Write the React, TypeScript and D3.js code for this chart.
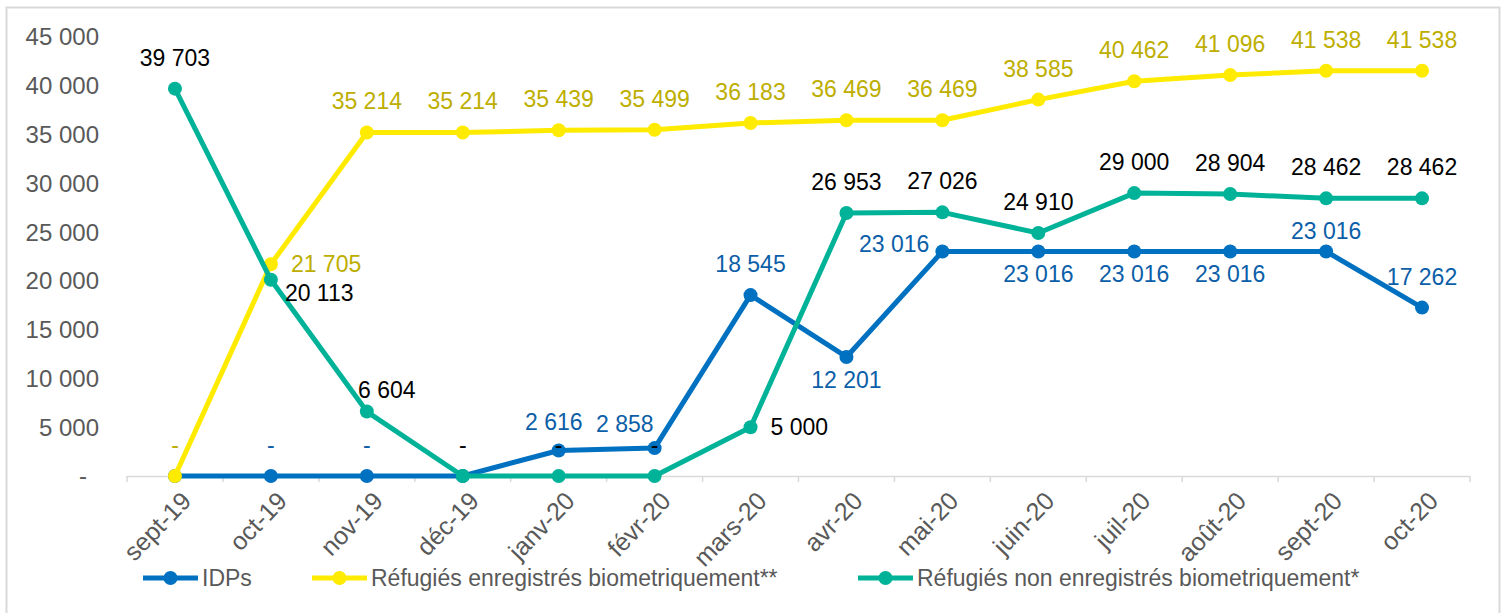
import React from "react";
import * as d3 from "d3";

const months = ["sept-19","oct-19","nov-19","déc-19","janv-20","févr-20","mars-20","avr-20","mai-20","juin-20","juil-20","août-20","sept-20","oct-20"];
const idps = [0,0,0,0,2616,2858,18545,12201,23016,23016,23016,23016,23016,17262];
const refBio = [0,21705,35214,35214,35439,35499,36183,36469,36469,38585,40462,41096,41538,41538];
const refNonBio = [39703,20113,6604,0,0,0,5000,26953,27026,24910,29000,28904,28462,28462];
const yTicks = [0,5000,10000,15000,20000,25000,30000,35000,40000,45000];

// label placement codes
const idpsPos = ["hide","above","above","hide","aboveLeftS","aboveLeft","above","below","left","below","below","below","aboveClose","above"];
const refBioPos = ["above","right","above","above","above","above","above","above","above","above","above","above","above","above"];
const refNonBioPos = ["above","rightBelow","rightAbove","above","above","above","right","above","above","above","above","above","above","above"];

const series = [
  { name: "IDPs", values: idps, color: "#0070C0", labelColor: "#0B5EA8", pos: idpsPos },
  { name: "Réfugiés enregistrés biometriquement**", values: refBio, color: "#FFEB00", labelColor: "#BDAE00", pos: refBioPos },
  { name: "Réfugiés non enregistrés biometriquement*", values: refNonBio, color: "#00B398", labelColor: "#000000", pos: refNonBioPos },
];

const fmt = (v: number) => (v === 0 ? "-" : d3.format(",")(v).replace(/,/g, " "));

export default function App() {
  const W = 1504, H = 613;
  const x = d3.scaleBand<string>().domain(months).range([127, 1470]).padding(0);
  const cx = (m: string) => (x(m) as number) + x.bandwidth() / 2;
  const y = d3.scaleLinear().domain([0, 45000]).range([476, 37]);
  const line = d3.line<number>().x((_, i) => cx(months[i])).y((d) => y(d));
  const font = "'Liberation Sans', Arial, sans-serif";

  const labelXY = (pos: string, px: number, py: number) => {
    switch (pos) {
      case "above": return [px, py - 23, "middle"];
      case "aboveClose": return [px, py - 12, "middle"];
      case "below": return [px, py + 31, "middle"];
      case "right": return [px + 20, py + 8, "start"];
      case "rightBelow": return [px + 14, py + 21, "start"];
      case "rightAbove": return [px + 20, py - 14, "middle"];
      case "aboveLeft": return [px - 1, py - 16, "end"];
      case "aboveLeftS": return [px + 24, py - 20, "end"];
      case "left": return [px - 13, py + 1, "end"];
      default: return [px, py, "middle"];
    }
  };

  const legendItems = [
    { x: 143, s: series[0] },
    { x: 312, s: series[1] },
    { x: 858, s: series[2] },
  ];

  return (
    <svg width={W} height={H} style={{ position: "absolute", left: 0, top: 0, background: "#fff" }} fontFamily={font}>
      <path d={`M6.5,${H} V7.5 H1499.5 V${H}`} fill="none" stroke="#D9D9D9" strokeWidth={2} />
      {/* y axis labels */}
      {yTicks.map((t) => (
        <text key={t} x={t === 0 ? 87 : 99} y={y(t)} dy="0.35em" textAnchor="end" fontSize={24} fill="#595959">
          {fmt(t)}
        </text>
      ))}
      {/* x axis */}
      <line x1={127} x2={1470} y1={476.5} y2={476.5} stroke="#D9D9D9" strokeWidth={1.5} />
      {months.concat(["end"]).map((m, i) => {
        const tx = 127 + i * x.step();
        return <line key={"t" + i} x1={tx} x2={tx} y1={476} y2={482} stroke="#D9D9D9" strokeWidth={1.5} />;
      })}
      {months.map((m) => (
        <text key={m} transform={`translate(${cx(m) + 5},${490}) rotate(-46)`} textAnchor="end" dy="0.7em" fontSize={25} fill="#595959">
          {m}
        </text>
      ))}
      {/* lines */}
      {series.map((s) => (
        <g key={s.name}>
          <path d={line(s.values) as string} fill="none" stroke={s.color} strokeWidth={5} strokeLinejoin="round" />
          {s.values.map((v, i) => (
            <circle key={i} cx={cx(months[i])} cy={y(v)} r={7} fill={s.color} />
          ))}
        </g>
      ))}
      {/* labels */}
      {series.map((s) => (
        <g key={"l" + s.name}>
          {s.values.map((v, i) => {
            if (s.pos[i] === "hide") return null;
            const [lx, ly, anchor] = labelXY(s.pos[i], cx(months[i]), y(v));
            return (
              <text key={i} x={lx as number} y={ly as number} textAnchor={anchor as any} fontSize={23} fill={s.labelColor}>
                {fmt(v)}
              </text>
            );
          })}
        </g>
      ))}
      {/* legend */}
      {legendItems.map((it) => (
        <g key={"lg" + it.s.name}>
          <line x1={it.x} x2={it.x + 55} y1={578} y2={578} stroke={it.s.color} strokeWidth={5} />
          <circle cx={it.x + 27.5} cy={578} r={7} fill={it.s.color} />
          <text x={it.x + 59} y={578} dy="0.35em" fontSize={23} fill="#595959">{it.s.name}</text>
        </g>
      ))}
    </svg>
  );
}
